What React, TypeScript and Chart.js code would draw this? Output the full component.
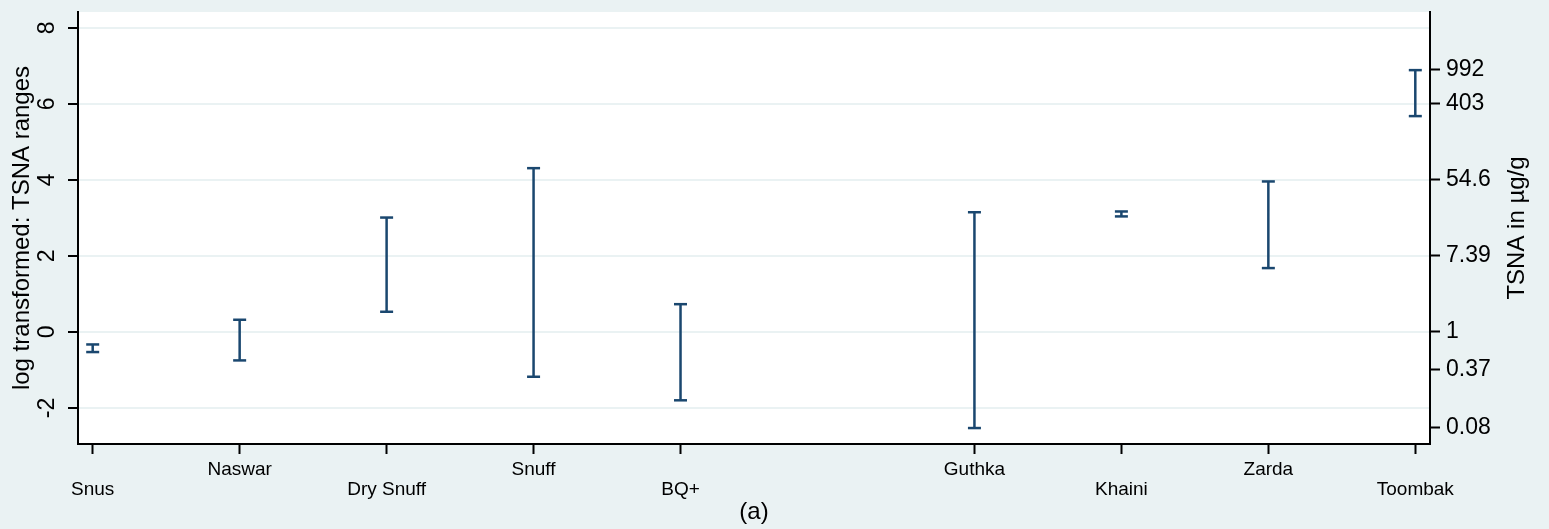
import React, { useEffect, useRef } from "react";
import { Chart, registerables } from "chart.js";

Chart.register(...registerables);

const categories = ["Snus", "Naswar", "Dry Snuff", "Snuff", "BQ+", "Guthka", "Khaini", "Zarda", "Toombak"];
const xPositions = [1, 2, 3, 4, 5, 7, 8, 9, 10];
const lowValues = [-0.53, -0.75, 0.53, -1.18, -1.8, -2.53, 3.04, 1.68, 5.68];
const highValues = [-0.33, 0.32, 3.01, 4.31, 0.73, 3.15, 3.17, 3.96, 6.89];
const leftTicks = [-2, 0, 2, 4, 6, 8];
const rightTickLabels = ["0.08", "0.37", "1", "7.39", "54.6", "403", "992"];

const BG = "#EAF2F3";
const NAVY = "#1A476F";
const FONT = "'Liberation Sans', Arial, sans-serif";

export default function App() {
  const ref = useRef<HTMLCanvasElement | null>(null);

  useEffect(() => {
    document.body.style.margin = "0";
    const canvas = ref.current!;
    const data: any[] = [];
    xPositions.forEach((x, i) => {
      data.push({ x, y: lowValues[i] });
      data.push({ x, y: highValues[i] });
      data.push({ x, y: null });
    });

    const bgPlugin = {
      id: "bgPlugin",
      beforeDraw(chart: any) {
        const { ctx, chartArea } = chart;
        ctx.save();
        ctx.fillStyle = BG;
        ctx.fillRect(0, 0, chart.width, chart.height);
        ctx.fillStyle = "#ffffff";
        ctx.fillRect(chartArea.left, chartArea.top, chartArea.right - chartArea.left, chartArea.bottom - chartArea.top);
        ctx.restore();
      },
      afterDraw(chart: any) {
        const { ctx, chartArea } = chart;
        ctx.save();
        ctx.fillStyle = "#000";
        ctx.font = `24px ${FONT}`;
        ctx.textAlign = "center";
        ctx.textBaseline = "middle";
        ctx.translate(1517, (chartArea.top + chartArea.bottom) / 2);
        ctx.rotate(-Math.PI / 2);
        ctx.fillText("TSNA in µg/g", 0, 0);
        ctx.restore();
      },
    };

    const zeroPad = (scale: any) => {
      scale.paddingTop = 0;
      scale.paddingBottom = 0;
      scale.paddingLeft = 0;
      scale.paddingRight = 0;
    };

    const chart = new Chart(canvas, {
      type: "line",
      data: {
        datasets: [
          {
            label: "TSNA range",
            data,
            borderColor: NAVY,
            backgroundColor: NAVY,
            borderWidth: 2.5,
            pointStyle: "line",
            pointRadius: 6.5,
            pointBorderWidth: 2.5,
            pointHoverRadius: 6.5,
            spanGaps: false,
            tension: 0,
          },
        ],
      },
      options: {
        animation: false,
        responsive: false,
        maintainAspectRatio: false,
        layout: { padding: { top: 12, left: 0, right: 0, bottom: 0 } },
        plugins: { legend: { display: false }, tooltip: { enabled: false } },
        scales: {
          x: {
            type: "linear",
            min: 0.9,
            max: 10.1,
            afterBuildTicks: (scale: any) => {
              scale.ticks = xPositions.map((v) => ({ value: v }));
            },
            afterFit: (scale: any) => {
              scale.height = 85;
              zeroPad(scale);
            },
            ticks: {
              autoSkip: false,
              maxRotation: 0,
              minRotation: 0,
              padding: 6,
              color: "#000",
              font: { family: FONT, size: 19, lineHeight: 1.05 },
              callback: (value: any) => {
                const i = xPositions.indexOf(Number(value));
                if (i < 0) return "";
                return i % 2 === 0 ? ["", categories[i]] : [categories[i], ""];
              },
            },
            grid: {
              display: true,
              drawOnChartArea: false,
              drawTicks: true,
              tickLength: 10,
              tickColor: "#000",
              tickWidth: 2,
            },
            border: { display: true, color: "#000", width: 2 },
            title: {
              display: true,
              text: "(a)",
              color: "#000",
              font: { family: FONT, size: 24 },
              padding: { top: 0, bottom: 2 },
            },
          },
          y: {
            type: "linear",
            position: "left",
            min: -2.95,
            max: 8.42,
            afterBuildTicks: (scale: any) => {
              scale.ticks = leftTicks.map((v) => ({ value: v }));
            },
            afterFit: (scale: any) => {
              scale.width = 78;
              zeroPad(scale);
            },
            ticks: {
              minRotation: 90,
              maxRotation: 90,
              crossAlign: "center",
              padding: 10,
              color: "#000",
              font: { family: FONT, size: 23 },
            },
            grid: {
              color: BG,
              lineWidth: 2,
              drawTicks: true,
              tickLength: 10,
              tickColor: "#000",
              tickWidth: 2,
            },
            border: { display: true, color: "#000", width: 2 },
            title: {
              display: true,
              text: "log transformed: TSNA ranges",
              color: "#000",
              font: { family: FONT, size: 24 },
              padding: { top: 8, bottom: 0 },
            },
          },
          y2: {
            type: "linear",
            position: "right",
            min: -2.95,
            max: 8.42,
            afterBuildTicks: (scale: any) => {
              scale.ticks = rightTickLabels.map((l) => ({ value: Math.log(parseFloat(l)) }));
            },
            afterFit: (scale: any) => {
              scale.width = 119;
              zeroPad(scale);
            },
            ticks: {
              padding: 6,
              color: "#000",
              font: { family: FONT, size: 23 },
              callback: (_v: any, i: number) => rightTickLabels[i],
            },
            grid: {
              drawOnChartArea: false,
              drawTicks: true,
              tickLength: 10,
              tickColor: "#000",
              tickWidth: 2,
            },
            border: { display: true, color: "#000", width: 2 },
          },
        },
      },
      plugins: [bgPlugin],
    } as any);

    return () => chart.destroy();
  }, []);

  return (
    <div style={{ position: "fixed", left: 0, top: 0, width: 1549, height: 529, background: BG }}>
      <canvas ref={ref} width={1549} height={529} style={{ display: "block", width: 1549, height: 529 }} />
    </div>
  );
}
